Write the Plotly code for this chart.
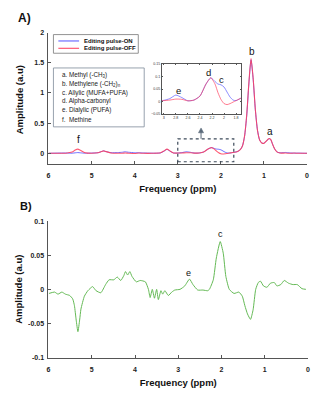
import plotly.graph_objects as go

# ---------------- data ----------------
ppm_A = [6.0, 5.8, 5.6, 5.45, 5.38, 5.32, 5.26, 5.15, 5.0, 4.85, 4.77, 4.72, 4.66, 4.55, 4.4,
         4.28, 4.22, 4.15, 4.0, 3.9, 3.8, 3.6, 3.4, 3.32, 3.25, 3.18, 3.1, 3.0, 2.9, 2.8,
         2.7, 2.6, 2.5, 2.4, 2.3, 2.22, 2.15, 2.1, 2.05, 2.0, 1.95, 1.9, 1.85, 1.8, 1.75,
         1.7, 1.65, 1.6, 1.55, 1.5, 1.45, 1.4, 1.35, 1.3, 1.25, 1.2, 1.15, 1.1, 1.05, 1.0,
         0.95, 0.9, 0.87, 0.84, 0.8, 0.75, 0.7, 0.65, 0.6, 0.5, 0.4, 0.3, 0.2, 0.1, 0.0]

pulse_on = [0.0, 0.003, 0.005, 0.002, 0.008, 0.012, 0.008, 0.002, 0.004, 0.01, 0.03, 0.04, 0.028, 0.01, 0.012,
            0.018, 0.025, 0.018, 0.01, 0.008, 0.006, 0.002, 0.006, 0.035, 0.065, 0.035, 0.005, 0.005, 0.012, 0.026,
            0.016, 0.003, 0.006, 0.022, 0.07, 0.095, 0.08, 0.07, 0.067, 0.058, 0.038, 0.018, 0.006, 0.004, 0.01,
            0.016, 0.022, 0.035, 0.06, 0.12, 0.28, 0.62, 1.15, 1.55, 1.22, 0.72, 0.38, 0.22, 0.17, 0.165,
            0.2, 0.235, 0.24, 0.225, 0.15, 0.07, 0.025, 0.01, 0.008, 0.014, 0.006, 0.003, 0.004, 0.001, 0.0]

pulse_off = [0.0, 0.0, 0.002, 0.02, 0.055, 0.07, 0.05, 0.008, 0.0, 0.008, 0.03, 0.04, 0.028, 0.006, 0.0,
             0.002, 0.006, 0.002, -0.004, 0.004, 0.0, 0.0, 0.008, 0.04, 0.07, 0.04, 0.006, 0.004, 0.006, 0.01,
             0.009, 0.003, 0.006, 0.022, 0.07, 0.095, 0.07, 0.035, 0.008, -0.008, -0.012, -0.008, -0.002, 0.004, 0.01,
             0.016, 0.022, 0.035, 0.06, 0.12, 0.29, 0.64, 1.17, 1.57, 1.24, 0.73, 0.38, 0.22, 0.17, 0.165,
             0.2, 0.238, 0.245, 0.228, 0.15, 0.07, 0.025, 0.008, 0.003, 0.004, 0.0, 0.004, 0.0, 0.002, 0.0]

ppm_B = [5.99, 5.86, 5.78, 5.69, 5.61, 5.51, 5.44, 5.40, 5.36, 5.32, 5.28, 5.25, 5.17, 5.09, 4.98,
         4.90, 4.79, 4.68, 4.60, 4.49, 4.41, 4.33, 4.26, 4.22, 4.17, 4.12, 4.07, 3.97, 3.88, 3.76,
         3.69, 3.65, 3.60, 3.55, 3.50, 3.46, 3.40, 3.36, 3.31, 3.23, 3.15, 3.08, 2.96, 2.85, 2.74,
         2.66, 2.55, 2.43, 2.32, 2.28, 2.19, 2.12, 2.03, 1.96, 1.90, 1.82, 1.71, 1.60, 1.52, 1.46,
         1.40, 1.33, 1.27, 1.21, 1.15, 1.10, 1.03, 0.95, 0.87, 0.78, 0.72, 0.63, 0.55, 0.45, 0.35,
         0.25, 0.14, 0.05]

difference = [-0.006, -0.004, -0.007, -0.004, -0.007, -0.009, -0.014, -0.024, -0.045, -0.062, -0.045, -0.029, -0.010, -0.002, 0.004,
              -0.002, -0.005, 0.007, 0.014, 0.014, 0.018, 0.013, 0.020, 0.026, 0.021, 0.026, 0.019, 0.011, 0.013, 0.011,
              0.0, -0.012, 0.0, -0.013, 0.0, -0.015, -0.002, -0.007, -0.002, -0.009, -0.004, -0.001, 0.0, 0.005, 0.015,
              0.007, -0.001, -0.001, -0.002, 0.0, 0.014, 0.046, 0.070, 0.053, 0.019, 0.0, -0.006, -0.004, -0.010, -0.024,
              -0.036, -0.044, -0.030, 0.0, 0.010, 0.012, 0.005, 0.003, 0.009, 0.010, 0.005, 0.007, 0.013, 0.009, 0.007,
              0.007, 0.001, 0.0]

x_ticks = [6, 5, 4, 3, 2, 1, 0]
yA_ticks = [0, 0.5, 1, 1.5, 2]
yB_ticks = [0.1, 0.05, 0, -0.05, -0.1]
yB_labels = ["0.1", "0.05", "0", "-0.05", "-0.1"]
inset_x_ticks = [3, 2.8, 2.6, 2.4, 2.2, 2, 1.8]
inset_y_ticks = [-0.05, 0, 0.05, 0.1, 0.15]

legend_names = ["Editing pulse-ON", "Editing pulse-OFF"]
assignments = ["a. Methyl (-CH<sub>3</sub>)", "b. Methylene (-CH<sub>2</sub>)<sub>n</sub>",
               "c. Allylic (MUFA+PUFA)", "d. Alpha-carbonyl", "e. Dialylic (PUFA)", "f.  Methine"]

# ---------------- style ----------------
# the page body keeps the browser's 8 px margin, so the figure is drawn 8 px in from the top-left
OFF = 8
W, H = 305, 384
FONT = "Liberation Sans, Arial, Helvetica, sans-serif"
BLUE = "rgba(95,95,255,0.9)"
RED = "rgba(255,60,90,0.85)"
GREEN = "rgb(100,185,85)"
AX = "#555555"


def px(x):
    return (x - OFF) / W


def py(y):
    return 1 - (y - OFF) / H


fig = go.Figure()
sm = 0.6
fig.add_trace(go.Scatter(x=ppm_A, y=pulse_on, mode="lines", name=legend_names[0],
                         line=dict(color=BLUE, width=1, shape="spline", smoothing=sm), xaxis="x", yaxis="y"))
fig.add_trace(go.Scatter(x=ppm_A, y=pulse_off, mode="lines", name=legend_names[1],
                         line=dict(color=RED, width=1.1, shape="spline", smoothing=sm), xaxis="x", yaxis="y"))
fig.add_trace(go.Scatter(x=ppm_A, y=pulse_on, mode="lines", name=legend_names[0], showlegend=False,
                         line=dict(color=BLUE, width=0.8, shape="spline", smoothing=sm), xaxis="x3", yaxis="y3"))
fig.add_trace(go.Scatter(x=ppm_A, y=pulse_off, mode="lines", name=legend_names[1], showlegend=False,
                         line=dict(color=RED, width=0.8, shape="spline", smoothing=sm), xaxis="x3", yaxis="y3"))
fig.add_trace(go.Scatter(x=ppm_B, y=difference, mode="lines", name="Difference",
                         line=dict(color=GREEN, width=1, shape="spline", smoothing=0.5), xaxis="x2", yaxis="y2"))

tickfont = dict(family=FONT, size=7, color="#222", weight="bold")
titlefont = dict(family=FONT, size=9.5, color="#111", weight="bold")
base_axis = dict(showgrid=False, zeroline=False, showline=True, linecolor=AX, linewidth=1,
                 ticks="inside", ticklen=3, tickcolor=AX, tickfont=tickfont)

fig.update_layout(
    width=W, height=H, margin=dict(l=0, r=0, t=0, b=0), autosize=False,
    paper_bgcolor="white", plot_bgcolor="white", showlegend=False,
    font=dict(family=FONT),
    xaxis=dict(base_axis, domain=[px(47), px(309)], range=[6, 0], anchor="y", tickvals=x_ticks,
               title=dict(text="Frequency (ppm)", font=titlefont, standoff=7), ticklabelstandoff=4),
    yaxis=dict(base_axis, domain=[py(163), py(29)], range=[-0.18, 2], anchor="x", tickvals=yA_ticks,
               ticklabelstandoff=2),
    xaxis2=dict(base_axis, domain=[px(47), px(310)], range=[6, 0], anchor="y2", tickvals=x_ticks,
                title=dict(text="Frequency (ppm)", font=titlefont, standoff=7), ticklabelstandoff=5),
    yaxis2=dict(base_axis, domain=[py(360), py(221)], range=[-0.1, 0.1], anchor="x2",
                tickvals=yB_ticks, ticktext=yB_labels, ticklabelstandoff=2),
    xaxis3=dict(base_axis, domain=[px(162), px(242)], range=[3.03, 1.72], anchor="y3",
                tickvals=inset_x_ticks, mirror="ticks", ticklen=1.5, linewidth=0.8,
                tickfont=dict(family=FONT, size=3.6, color="#333")),
    yaxis3=dict(base_axis, domain=[py(112), py(61)], range=[-0.05, 0.15], anchor="x3",
                tickvals=inset_y_ticks, mirror="ticks", ticklen=1.5, linewidth=0.8,
                tickfont=dict(family=FONT, size=3.6, color="#333")),
)

shapes = []
# legend box and sample lines
shapes.append(dict(type="rect", xref="paper", yref="paper", x0=px(52), x1=px(138), y0=py(50), y1=py(31),
                   line=dict(color="#777", width=0.8), fillcolor="white", layer="above"))
shapes.append(dict(type="line", xref="paper", yref="paper", x0=px(57), x1=px(78), y0=py(37.5), y1=py(37.5),
                   line=dict(color=BLUE, width=1.2)))
shapes.append(dict(type="line", xref="paper", yref="paper", x0=px(57), x1=px(78), y0=py(45), y1=py(45),
                   line=dict(color=RED, width=1.2)))
# assignment text box
shapes.append(dict(type="rect", xref="paper", yref="paper", x0=px(52), x1=px(144), y0=py(125), y1=py(65),
                   line=dict(color="#7d8a99", width=0.8), fillcolor="white", layer="below"))
# dotted zoom region
shapes.append(dict(type="rect", xref="x", yref="y", x0=3.0, x1=1.7, y0=-0.14, y1=0.24,
                   line=dict(color="#3d4a5a", width=1.2, dash="dot")))
# arrow from the zoom region up to the inset (shaft + head)
shapes.append(dict(type="line", xref="x", yref="y", x0=2.46, x1=2.46, y0=0.24, y1=0.36,
                   line=dict(color="#5a6a7a", width=1)))
shapes.append(dict(type="path", xref="x", yref="y", path="M 2.52,0.34 L 2.46,0.42 L 2.40,0.34 Z",
                   fillcolor="#5a6a7a", line=dict(color="#5a6a7a", width=0.5)))
fig.update_layout(shapes=shapes)

ann = []
ann.append(dict(text=legend_names[0], x=px(81), y=py(37.5), xref="paper", yref="paper", showarrow=False,
                xanchor="left", yanchor="middle", font=dict(family=FONT, size=6, color="#111", weight="bold")))
ann.append(dict(text=legend_names[1], x=px(81), y=py(45), xref="paper", yref="paper", showarrow=False,
                xanchor="left", yanchor="middle", font=dict(family=FONT, size=6, color="#111", weight="bold")))
for i, t in enumerate(assignments):
    ann.append(dict(text=t, x=px(59), y=py(72 + 9 * i), xref="paper", yref="paper", showarrow=False,
                    xanchor="left", yanchor="middle", font=dict(family=FONT, size=6.3, color="#222")))
# panel labels
ann.append(dict(text="A)", x=px(14), y=py(14), xref="paper", yref="paper", showarrow=False,
                xanchor="left", yanchor="middle", font=dict(family=FONT, size=12, color="#111", weight="bold")))
ann.append(dict(text="B)", x=px(16), y=py(206), xref="paper", yref="paper", showarrow=False,
                xanchor="left", yanchor="middle", font=dict(family=FONT, size=11, color="#111", weight="bold")))
# y titles
for yc in (97, 290):
    ann.append(dict(text="Amplitude (a.u)", x=px(17), y=py(yc), xref="paper", yref="paper", showarrow=False,
                    textangle=-90, xanchor="center", yanchor="middle", font=titlefont))
# peak labels panel A
lab = dict(family=FONT, size=10, color="#111")
for t, xv, yv in [("b", 1.28, 1.69), ("a", 0.87, 0.36), ("f", 5.31, 0.23)]:
    ann.append(dict(text=t, x=xv, y=yv, xref="x", yref="y", showarrow=False, font=lab))
for t, xv, yv in [("d", 2.26, 0.117), ("c", 2.05, 0.088), ("e", 2.75, 0.045)]:
    ann.append(dict(text=t, x=xv, y=yv, xref="x3", yref="y3", showarrow=False, font=dict(lab, size=9.5)))
for t, xv, yv in [("c", 2.03, 0.081), ("e", 2.76, 0.0245)]:
    ann.append(dict(text=t, x=xv, y=yv, xref="x2", yref="y2", showarrow=False, font=dict(lab, size=9)))
fig.update_layout(annotations=ann)

fig.write_html("out.html")
